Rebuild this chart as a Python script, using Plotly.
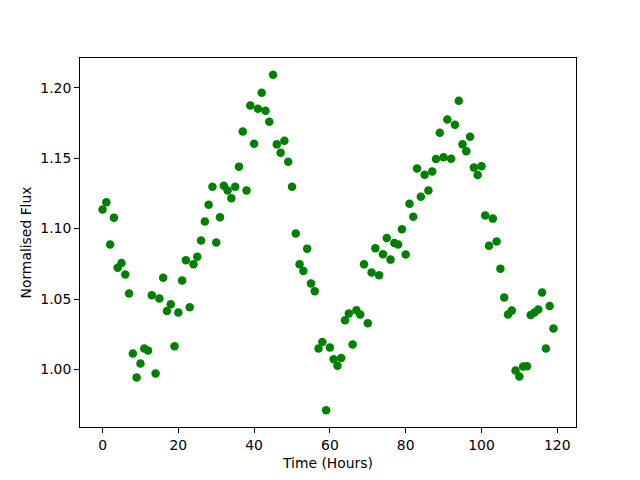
import plotly.graph_objects as go

time_hours = [0, 1, 2, 3, 4, 5, 6, 7, 8, 9, 10, 11, 12, 13, 14, 15, 16, 17, 18, 19,
              20, 21, 22, 23, 24, 25, 26, 27, 28, 29, 30, 31, 32, 33, 34, 35, 36, 37, 38, 39,
              40, 41, 42, 43, 44, 45, 46, 47, 48, 49, 50, 51, 52, 53, 54, 55, 56, 57, 58, 59,
              60, 61, 62, 63, 64, 65, 66, 67, 68, 69, 70, 71, 72, 73, 74, 75, 76, 77, 78, 79,
              80, 81, 82, 83, 84, 85, 86, 87, 88, 89, 90, 91, 92, 93, 94, 95, 96, 97, 98, 99,
              100, 101, 102, 103, 104, 105, 106, 107, 108, 109, 110, 111, 112, 113, 114, 115, 116, 117, 118, 119]

normalised_flux = [1.1135, 1.1187, 1.0887, 1.1078, 1.0723, 1.0756, 1.0674, 1.0539, 1.0113, 0.9943,
                   1.0043, 1.0149, 1.0135, 1.0527, 0.9972, 1.0504, 1.0652, 1.0416, 1.0463, 1.0165,
                   1.0404, 1.0631, 1.0775, 1.0442, 1.0747, 1.0801, 1.0915, 1.1050, 1.1170, 1.1298,
                   1.0901, 1.1080, 1.1305, 1.1270, 1.1215, 1.1298, 1.1440, 1.1690, 1.1270, 1.1874,
                   1.1603, 1.1851, 1.1965, 1.1837, 1.1759, 1.2092, 1.1598, 1.1539, 1.1624, 1.1475,
                   1.1298, 1.0965, 1.0747, 1.0699, 1.0858, 1.0610, 1.0555, 1.0149, 1.0196, 0.9711,
                   1.0156, 1.0073, 1.0026, 1.0082, 1.0350, 1.0397, 1.0177, 1.0421, 1.0390, 1.0747,
                   1.0328, 1.0688, 1.0860, 1.0669, 1.0818, 1.0933, 1.0780, 1.0898, 1.0887, 1.0995,
                   1.0816, 1.1177, 1.1085, 1.1426, 1.1227, 1.1383, 1.1270, 1.1406, 1.1494, 1.1681,
                   1.1506, 1.1775, 1.1496, 1.1738, 1.1908, 1.1598, 1.1550, 1.1652, 1.1433, 1.1380,
                   1.1442, 1.1094, 1.0879, 1.1071, 1.0908, 1.0716, 1.0511, 1.0390, 1.0418, 0.9993,
                   0.9950, 1.0021, 1.0023, 1.0387, 1.0404, 1.0426, 1.0546, 1.0149, 1.0451, 1.0291]

x_ticks = [0, 20, 40, 60, 80, 100, 120]
y_ticks = [1.00, 1.05, 1.10, 1.15, 1.20]

fig = go.Figure()
fig.add_trace(go.Scatter(
    x=time_hours, y=normalised_flux, mode="markers",
    marker=dict(color="#008000", size=8.5, line=dict(width=0)),
    showlegend=False,
))

xmin, xmax = min(time_hours), max(time_hours)
ymin, ymax = min(normalised_flux), max(normalised_flux)
xpad = 0.05 * (xmax - xmin)
ypad = 0.05 * (ymax - ymin)

font = dict(family="DejaVu Sans", size=13.9, color="black")
axis_common = dict(
    showline=True, linecolor="black", linewidth=1.1, mirror=True,
    ticks="outside", ticklen=4.9, tickwidth=1.1, tickcolor="black",
    showgrid=False, zeroline=False, tickfont=font,
)

fig.update_layout(
    width=640, height=480,
    margin=dict(l=80, r=64, t=58, b=53, pad=0),
    paper_bgcolor="white", plot_bgcolor="white",
    font=font,
    xaxis=dict(range=[xmin - xpad, xmax + xpad], tickvals=x_ticks,
               title=dict(text="Time (Hours)", font=font, standoff=6), **axis_common),
    yaxis=dict(range=[ymin - ypad, ymax + ypad], tickvals=y_ticks, tickformat=".2f",
               title=dict(text="Normalised Flux", font=font, standoff=5), **axis_common),
)

fig.write_html("out.html", config={"displayModeBar": False},
               post_script="document.body.style.margin='0';document.body.style.overflow='hidden';")
